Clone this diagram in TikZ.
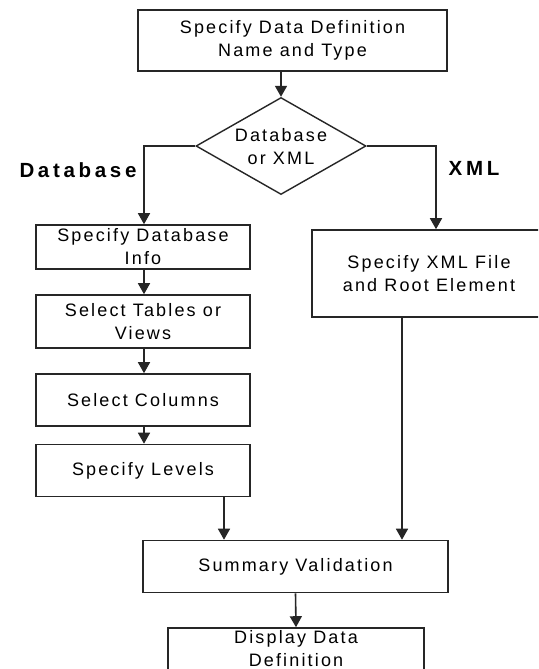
\documentclass[tikz,border=0pt]{standalone}
\usepackage{fontspec}
\setmainfont{Liberation Sans}[LetterSpace=12]
\newfontfamily\lblfont{Liberation Sans}[LetterSpace=18]
\usetikzlibrary{arrows.meta,shapes.geometric}
\begin{document}
\begin{tikzpicture}[x=1pt,y=-1pt,
  box/.style={draw=black!85,line width=1.6pt,inner sep=0pt,align=center,
    font=\fontsize{18}{23}\selectfont},
  dia/.style={diamond,draw=black!85,line width=1.4pt,inner sep=0pt,
    minimum width=170pt,minimum height=97pt},
  txt/.style={align=center,inner sep=0pt,font=\fontsize{18}{23}\selectfont},
  lbl/.style={inner sep=0pt,font=\lblfont\bfseries\fontsize{20.5}{23}\selectfont},
  arr/.style={draw=black!85,line width=1.6pt,-{Triangle[length=11pt,width=12pt]}}]
\useasboundingbox (0,0) rectangle (538,669);
\clip (0,0) rectangle (538,669);
\fill[white] (0,0) rectangle (538,669);
\node[box,minimum width=309pt,minimum height=61pt] (top) at (292.5,40.5) {Specify Data Definition\\Name and Type};
\node[dia] (d) at (281,146) {};
\node[txt] (dt) at (281,147) {Database\\or XML};
\node[lbl] (ldb) at (78,170) {Database};
\node[lbl] (lxml) at (474,168) {XML};
\node[box,minimum width=214pt,minimum height=44pt] (db) at (143,247) {Specify Database\\Info};
\node[box,minimum width=214pt,minimum height=53pt] (tab) at (143,321.5) {Select Tables or\\Views};
\node[box,minimum width=214pt,minimum height=52pt] (col) at (143,400) {Select Columns};
\node[box,minimum width=214pt,minimum height=52pt] (lev) at (143,470.5) {Specify Levels};
\node[box,minimum width=234pt,minimum height=87pt] (xml) at (429,273.5) {Specify XML File\\and Root Element};
\node[box,minimum width=305pt,minimum height=52pt] (sum) at (295.5,566.5) {Summary Validation};
\node[box,minimum width=256pt,minimum height=45pt] (disp) at (296,650.5) {};
\node[txt] (dispt) at (296,648.5) {Display Data\\Definition};
\draw[arr] (top.south -| d.north) -- (d.north);
\draw[arr] (d.west) -| ([xshift=1pt]db.north);
\draw[arr] (d.east) -| ([xshift=7pt]xml.north);
\draw[arr] ([xshift=1pt]db.south) -- ([xshift=1pt]tab.north);
\draw[arr] ([xshift=1pt]tab.south) -- ([xshift=1pt]col.north);
\draw[arr] ([xshift=1pt]col.south) -- ([xshift=1pt]lev.north);
\path ([xshift=81pt]lev.south) coordinate (levout);
\path ([xshift=-27pt]xml.south) coordinate (xmlout);
\draw[arr] (levout) -- (levout |- sum.north);
\draw[arr] (xmlout) -- (xmlout |- sum.north);
\draw[arr] (sum.south) -- (disp.north);
\end{tikzpicture}
\end{document}
